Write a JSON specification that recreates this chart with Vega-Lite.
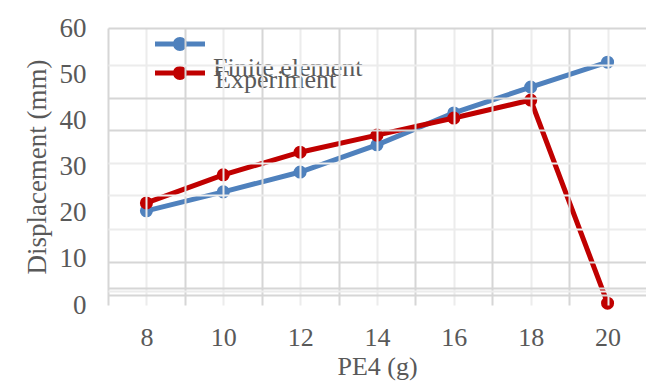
{
  "$schema": "https://vega.github.io/schema/vega-lite/v6.json",
  "width": 538,
  "height": 277,
  "autosize": {"type": "none"},
  "padding": {"left": 108, "top": 28, "right": 0, "bottom": 77},
  "background": "white",
  "config": {"font": "Liberation Serif", "view": {"stroke": null}},
  "data": {
    "values": [
      {"PE4": 8, "Displacement": 20.4, "Series": "Finite element"},
      {"PE4": 10, "Displacement": 24.5, "Series": "Finite element"},
      {"PE4": 12, "Displacement": 28.8, "Series": "Finite element"},
      {"PE4": 14, "Displacement": 34.7, "Series": "Finite element"},
      {"PE4": 16, "Displacement": 41.6, "Series": "Finite element"},
      {"PE4": 18, "Displacement": 47.2, "Series": "Finite element"},
      {"PE4": 20, "Displacement": 52.6, "Series": "Finite element"},
      {"PE4": 8, "Displacement": 22.1, "Series": "Experiment"},
      {"PE4": 10, "Displacement": 28.2, "Series": "Experiment"},
      {"PE4": 12, "Displacement": 33.1, "Series": "Experiment"},
      {"PE4": 14, "Displacement": 36.8, "Series": "Experiment"},
      {"PE4": 16, "Displacement": 40.5, "Series": "Experiment"},
      {"PE4": 18, "Displacement": 44.4, "Series": "Experiment"},
      {"PE4": 20, "Displacement": 0.4, "Series": "Experiment"}
    ]
  },
  "encoding": {
    "x": {
      "field": "PE4",
      "type": "quantitative",
      "scale": {"domain": [7, 21], "nice": false, "zero": false},
      "axis": {
        "title": "PE4 (g)",
        "values": [7, 8, 9, 10, 11, 12, 13, 14, 15, 16, 17, 18, 19, 20],
        "labelExpr": "datum.value % 2 == 0 ? datum.label : ''",
        "grid": true,
        "gridColor": {"condition": {"test": "datum.value % 2 == 1", "value": "#d6d6d6"}, "value": "#ececec"},
        "gridWidth": 2,
        "ticks": false,
        "domain": false,
        "labelFontSize": 26,
        "labelColor": "#595959",
        "labelPadding": 19,
        "titleFontSize": 26,
        "titleColor": "#595959",
        "titleFontWeight": "normal",
        "titlePadding": 3,
        "zindex": 1
      }
    }
  },
  "layer": [
    {
      "mark": {"type": "line", "strokeWidth": 5},
      "encoding": {
        "y": {
          "field": "Displacement",
          "type": "quantitative",
          "scale": {"domain": [0, 60], "nice": false},
          "axis": {
            "values": [0, 10, 20, 30, 40, 50, 60],
            "grid": false,
            "ticks": false,
            "domain": false,
            "labelFontSize": 27,
            "labelColor": "#595959",
            "labelPadding": 22,
            "title": "Displacement (mm)",
            "titleFontSize": 27,
            "titleColor": "#595959",
            "titleFontWeight": "normal",
            "titlePadding": 8
          }
        },
        "color": {
          "field": "Series",
          "type": "nominal",
          "scale": {"domain": ["Finite element", "Experiment"], "range": ["#4f81bd", "#c00000"]},
          "legend": {
            "orient": "none",
            "legendX": 47,
            "legendY": 9,
            "title": null,
            "symbolType": "M-1,-0.1L1,-0.1L1,0.1L-1,0.1Z M-0.28,0 A0.28,0.28 0 1,1 0.28,0 A0.28,0.28 0 1,1 -0.28,0Z",
            "symbolSize": 2500,
            "symbolStrokeWidth": 0,
            "clipHeight": 14,
            "rowPadding": 2,
            "labelExpr": "datum.value === 'Experiment' ? datum.label : ''",
            "labelFontSize": 26,
            "labelColor": "#595959",
            "labelBaseline": "alphabetic",
            "labelOffset": 10,
            "labelLimit": 400,
            "encode": {
              "symbols": {"update": {"fill": {"scale": "color", "field": "value"}, "strokeWidth": {"value": 0}}},
              "labels": {"update": {"dy": {"value": 15}}}
            }
          }
        }
      }
    },
    {
      "mark": {"type": "point", "filled": true, "size": 170, "opacity": 1},
      "encoding": {
        "y": {
          "field": "Displacement",
          "type": "quantitative",
          "scale": {"domain": [0, 60], "nice": false},
          "axis": {
            "orient": "left",
            "values": [60, 52, 44.8, 37.9, 30.8, 23.8, 16.5, 9.3, 3.7, 3.0, 2.2],
            "labels": false,
            "ticks": false,
            "domain": false,
            "title": null,
            "grid": true,
            "gridColor": {"condition": {"test": "indexof([60, 44.8, 37.9, 9.3, 3.7, 2.2], datum.value) >= 0", "value": "#d6d6d6"}, "value": "#ececec"},
            "gridWidth": 2,
            "zindex": 1
          }
        },
        "fill": {
          "field": "Series",
          "type": "nominal",
          "scale": {"domain": ["Experiment", "Finite element"], "range": ["#c00000", "#4f81bd"]},
          "legend": {
            "orient": "none",
            "legendX": 79,
            "legendY": 35,
            "title": null,
            "values": ["Finite element"],
            "symbolType": "circle",
            "symbolSize": 100,
            "symbolOpacity": 0,
            "labelFontSize": 26,
            "labelColor": "#595959",
            "labelBaseline": "alphabetic",
            "labelOffset": 0,
            "labelLimit": 400
          }
        }
      }
    }
  ],
  "resolve": {"axis": {"y": "independent"}}
}
